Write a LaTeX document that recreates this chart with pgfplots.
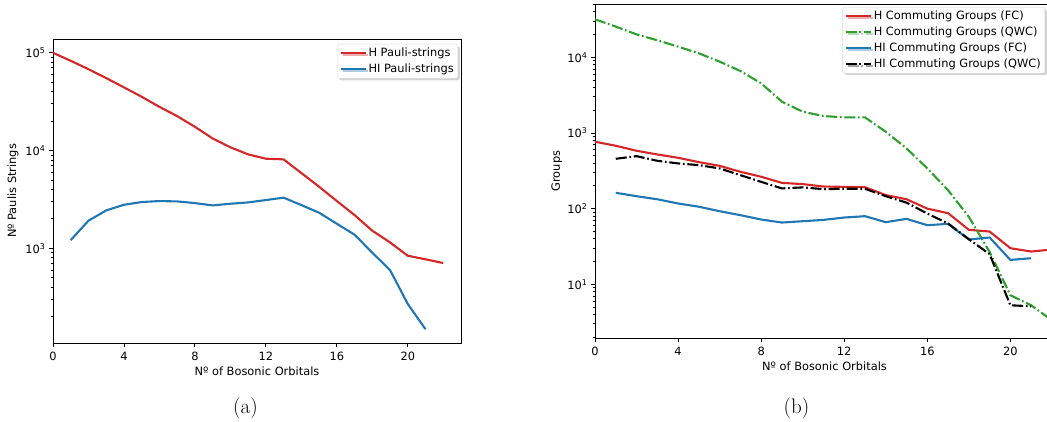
\documentclass[border=0pt]{standalone}
\usepackage{pgfplots}
\pgfplotsset{compat=1.18}
\usepackage{fontspec}
\newfontfamily\dejavu{DejaVu Sans}
\usetikzlibrary{shadows}

\definecolor{mplred}{HTML}{D62728}
\definecolor{mplgreen}{HTML}{2CA02C}
\definecolor{mplblue}{HTML}{1F77B4}

\tikzset{
  solidline/.style={line width=2.1pt},
  dashdot/.style={line width=2.1pt, dash pattern=on 11pt off 2.7pt on 1.7pt off 2.7pt},
}

\pgfplotsset{
  mpl/.style={
    scale only axis,
    font=\dejavu\fontsize{11.4}{13.7}\selectfont,
    xmin=0,
    xtick={0,4,...,20},
    /pgf/number format/assume math mode=true,
    tick align=outside,
    xtick pos=left, ytick pos=left,
    major tick length=4pt, minor tick length=2.3pt,
    every tick/.style={black, line width=0.9pt},
    axis line style={line width=0.9pt},
    xticklabel style={yshift=-2pt},
    xlabel={Nº of Bosonic Orbitals},
    legend cell align=left,
    legend image code/.code={\draw[##1] (0pt,0pt) -- (25pt,0pt);},
    legend style={at={(1,1)}, anchor=north east, xshift=-3pt, yshift=-3pt,
      draw=black!15, fill=white, rounded corners=2pt, row sep=1.8pt,
      inner sep=2pt,
      drop shadow={shadow xshift=2pt, shadow yshift=-2pt, opacity=0.35},
      font=\dejavu\fontsize{11.4}{13.7}\selectfont},
  },
}

\begin{document}
\begin{tikzpicture}
  \begin{semilogyaxis}[mpl,
      at={(53pt,78pt)}, anchor=south west,
      width=408pt, height=304pt,
      xmax=23, ymin=107.7, ymax=138400,
      ytick={1000,10000,100000},
      yticklabels={10\textsuperscript{3},10\textsuperscript{4},10\textsuperscript{5}},
      minor ytick={200,300,400,500,600,700,800,900,2000,3000,4000,5000,6000,7000,8000,9000,20000,30000,40000,50000,60000,70000,80000,90000},
      ylabel={Nº Paulis Strings},
      xlabel style={at={(axis description cs:0.5,-0.092)}, anchor=center},
      ylabel style={at={(axis description cs:-0.098,0.5)}, anchor=center},
      legend style={yshift=-2pt},
    ]
    \addplot[mplred, solidline] coordinates {
      (0,100000)(1,82800)(2,68000)(3,55100)(4,44300)(5,35500)(6,28000)(7,22500)
      (8,17500)(9,13300)(10,10800)(11,9140)(12,8260)(13,8130)(14,5890)(15,4270)
      (16,3050)(17,2190)(18,1515)(19,1150)(20,841)(21,773)(22,708)};
    \addlegendentry{H Pauli-strings}
    \addplot[mplblue, solidline] coordinates {
      (1,1216)(2,1918)(3,2445)(4,2790)(5,2977)(6,3047)(7,3020)(8,2905)(9,2750)
      (10,2860)(11,2950)(12,3120)(13,3300)(14,2770)(15,2315)(16,1785)(17,1380)
      (18,903)(19,600)(20,270)(21,149)};
    \addlegendentry{HI Pauli-strings}
  \end{semilogyaxis}

  \begin{semilogyaxis}[mpl,
      at={(595pt,83pt)}, anchor=south west,
      width=459pt, height=334pt,
      xmax=22.1, ymin=1.95, ymax=50700,
      ytick={10,100,1000,10000},
      yticklabels={10\textsuperscript{1},10\textsuperscript{2},10\textsuperscript{3},10\textsuperscript{4}},
      minor ytick={2,3,4,5,6,7,8,9,20,30,40,50,60,70,80,90,200,300,400,500,600,700,800,900,2000,3000,4000,5000,6000,7000,8000,9000,20000,30000,40000,50000},
      ylabel={Groups},
      xlabel style={at={(axis description cs:0.5,-0.086)}, anchor=center},
      ylabel style={at={(axis description cs:-0.083,0.5)}, anchor=center},
      legend style={xshift=-6pt},
    ]
    \addplot[mplred, solidline] coordinates {
      (0,766)(1,678)(2,582)(3,520)(4,470)(5,412)(6,368)(7,307)(8,264)(9,219)
      (10,211)(11,196)(12,194)(13,192)(14,151)(15,133)(16,100)(17,87)(18,52.5)
      (19,49.8)(20,30)(21,27.1)(22,28.8)};
    \addlegendentry{H Commuting Groups (FC)}
    \addplot[mplgreen, dashdot] coordinates {
      (0,31800)(1,25500)(2,20100)(3,16800)(4,13840)(5,11300)(6,8770)(7,6600)
      (8,4530)(9,2590)(10,1910)(11,1675)(12,1608)(13,1608)(14,1038)(15,625)
      (16,340)(17,175)(18,77.8)(19,26.8)(20,7.16)(21,5.28)(22,3.34)};
    \addlegendentry{H Commuting Groups (QWC)}
    \addplot[mplblue, solidline] coordinates {
      (1,162)(2,146)(3,133)(4,117)(5,106)(6,92.5)(7,82)(8,71.8)(9,65.5)(10,68.2)
      (11,71)(12,76.3)(13,79.5)(14,66.2)(15,73.3)(16,60.4)(17,62.9)(18,39.1)
      (19,41.5)(20,21)(21,22.1)};
    \addlegendentry{HI Commuting Groups (FC)}
    \addplot[black, dashdot] coordinates {
      (1,456)(2,494)(3,429)(4,396)(5,376)(6,340)(7,277)(8,226)(9,185)(10,191)
      (11,181)(12,183)(13,183)(14,146)(15,120)(16,86)(17,63.6)(18,39.5)(19,25)
      (20,5.28)(21,5.12)};
    \addlegendentry{HI Commuting Groups (QWC)}
  \end{semilogyaxis}

  \node[font=\fontsize{21}{25}\selectfont] at (245.5pt,13pt) {(a)};
  \node[font=\fontsize{21}{25}\selectfont] at (796.5pt,13pt) {(b)};

  \pgfresetboundingbox
  \path[use as bounding box] (0pt,0pt) rectangle (1047pt,421pt);
\end{tikzpicture}
\end{document}
